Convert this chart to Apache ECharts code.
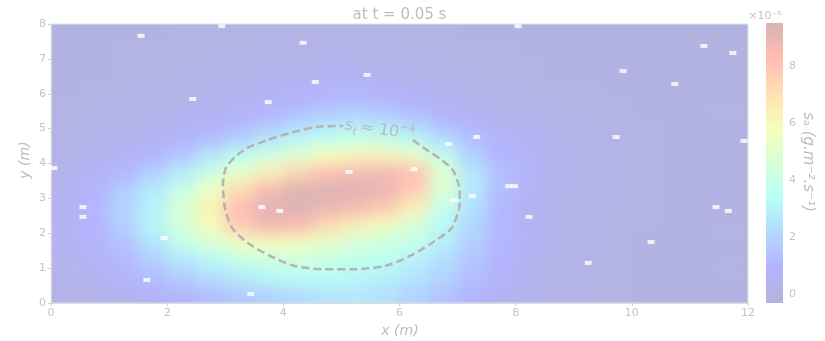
<!DOCTYPE html>
<html>
<head>
<meta charset="utf-8">
<title>s_a at t = 0.05 s</title>
<script src="https://cdn.jsdelivr.net/npm/echarts@6/dist/echarts.min.js"></script>
<style>
  html, body { margin: 0; padding: 0; background: #fff; }
  #wrap { position: relative; width: 825px; height: 341px; }
  /* the field is drawn in its own chart, softened like imshow's bilinear look */
  #fieldClip { position: absolute; left: 51px; top: 24px; width: 697px; height: 279px; overflow: hidden; }
  #field { position: absolute; left: -24px; top: -24px; width: 745px; height: 327px; filter: blur(8px); }
  #chart { position: absolute; left: 0; top: 0; width: 825px; height: 341px; }
</style>
</head>
<body>
<div id="wrap">
  <div id="fieldClip"><div id="field"></div></div>
  <div id="chart"></div>
</div>
<script>
// cell centres (m), cells are 0.5 m wide
const CELL = 0.5;
const xCenters = [0.25, 0.75, 1.25, 1.75, 2.25, 2.75, 3.25, 3.75, 4.25, 4.75, 5.25, 5.75,
  6.25, 6.75, 7.25, 7.75, 8.25, 8.75, 9.25, 9.75, 10.25, 10.75, 11.25, 11.75];
const yCenters = [0.25, 0.75, 1.25, 1.75, 2.25, 2.75, 3.25, 3.75, 4.25, 4.75, 5.25, 5.75,
  6.25, 6.75, 7.25, 7.75];

// s_a (x1e-5 g.m-2.s-1), one row per y centre
const rowY0_25 = [0.16, 0.22, 0.4, 0.7, 1.0, 1.3, 1.6, 1.9, 2.2, 2.5, 2.6, 2.4, 2.0, 1.5, 1.0, 0.55, 0.3, 0.15, 0.08, 0.04, 0.02, 0.01, 0, 0];
const rowY0_75 = [0.3, 0.5, 0.85, 1.3, 1.8, 2.3, 2.8, 3.2, 3.4, 3.35, 3.15, 2.9, 2.5, 2.0, 1.35, 0.75, 0.4, 0.2, 0.1, 0.05, 0.03, 0.01, 0, 0];
const rowY1_25 = [0.4, 0.7, 1.15, 1.85, 2.6, 3.2, 3.8, 4.1, 4.2, 4.0, 3.7, 3.4, 3.0, 2.3, 1.5, 0.85, 0.45, 0.22, 0.11, 0.06, 0.03, 0.01, 0, 0];
const rowY1_75 = [0.4, 0.85, 1.5, 2.55, 3.7, 4.75, 5.6, 5.9, 5.7, 5.2, 4.6, 4.2, 3.7, 2.9, 1.9, 1.1, 0.55, 0.27, 0.13, 0.07, 0.03, 0.02, 0.01, 0];
const rowY2_25 = [0.48, 1.0, 1.85, 3.05, 4.6, 6.0, 7.8, 8.7, 8.4, 7.3, 6.4, 5.6, 4.6, 3.2, 2.05, 1.1, 0.55, 0.3, 0.14, 0.07, 0.04, 0.02, 0.01, 0];
const rowY2_75 = [0.42, 1.05, 2.0, 3.0, 4.6, 6.3, 8.2, 9.2, 9.4, 9.0, 8.5, 7.8, 6.4, 3.9, 2.4, 1.1, 0.52, 0.29, 0.15, 0.08, 0.04, 0.02, 0.01, 0];
const rowY3_25 = [0.45, 0.95, 1.8, 2.7, 4.0, 5.5, 7.2, 8.6, 9.3, 9.4, 9.3, 8.9, 7.7, 4.8, 2.7, 1.25, 0.6, 0.32, 0.16, 0.08, 0.04, 0.02, 0.01, 0];
const rowY3_75 = [0.29, 0.62, 1.1, 1.85, 2.8, 4.1, 5.3, 6.4, 7.4, 8.1, 8.6, 8.7, 8.1, 5.0, 2.6, 1.3, 0.68, 0.38, 0.2, 0.1, 0.05, 0.02, 0.01, 0];
const rowY4_25 = [0.22, 0.35, 0.6, 1.0, 1.6, 2.6, 3.5, 4.3, 5.0, 5.7, 6.1, 6.3, 5.3, 3.7, 1.9, 1.0, 0.63, 0.37, 0.2, 0.1, 0.05, 0.02, 0.01, 0];
const rowY4_75 = [0.12, 0.25, 0.4, 0.5, 0.8, 1.2, 1.8, 2.5, 3.1, 3.6, 3.95, 3.8, 3.1, 2.2, 1.3, 0.75, 0.5, 0.32, 0.18, 0.1, 0.05, 0.02, 0.01, 0];
const rowY5_25 = [0.08, 0.14, 0.22, 0.3, 0.45, 0.65, 0.9, 1.3, 1.8, 2.2, 2.4, 2.2, 1.7, 1.1, 0.7, 0.45, 0.3, 0.2, 0.12, 0.07, 0.04, 0.02, 0.01, 0];
const rowY5_75 = [0.05, 0.1, 0.15, 0.2, 0.3, 0.4, 0.55, 0.75, 1.0, 1.2, 1.3, 1.15, 0.9, 0.55, 0.33, 0.22, 0.15, 0.1, 0.06, 0.04, 0.02, 0.01, 0, 0];
const rowY6_25 = [0.03, 0.05, 0.08, 0.12, 0.18, 0.25, 0.33, 0.45, 0.6, 0.7, 0.7, 0.6, 0.45, 0.28, 0.18, 0.12, 0.08, 0.06, 0.04, 0.03, 0.02, 0.01, 0, 0];
const rowY6_75 = [0.02, 0.03, 0.05, 0.07, 0.1, 0.14, 0.18, 0.25, 0.33, 0.4, 0.38, 0.32, 0.2, 0.13, 0.08, 0.06, 0.04, 0.03, 0.02, 0.01, 0.01, 0, 0, 0];
const rowY7_25 = [0.02, 0.03, 0.04, 0.05, 0.07, 0.09, 0.11, 0.14, 0.18, 0.21, 0.2, 0.17, 0.12, 0.08, 0.05, 0.04, 0.03, 0.02, 0.01, 0.01, 0, 0, 0, 0];
const rowY7_75 = [0.01, 0.01, 0.02, 0.03, 0.04, 0.05, 0.07, 0.09, 0.11, 0.12, 0.11, 0.09, 0.07, 0.05, 0.03, 0.02, 0.02, 0.01, 0.01, 0, 0, 0, 0, 0];
const fieldRows = [rowY0_25, rowY0_75, rowY1_25, rowY1_75, rowY2_25, rowY2_75, rowY3_25, rowY3_75,
  rowY4_25, rowY4_75, rowY5_25, rowY5_75, rowY6_25, rowY6_75, rowY7_25, rowY7_75];

// s_t = 1e-4 contour, clockwise from the right end of its label
const contourX = [6.23, 6.47, 6.73, 6.92, 7.02, 7.04, 7.02, 6.90, 6.61, 6.18, 5.75, 5.23, 4.67,
  4.20, 3.77, 3.39, 3.12, 3.00, 2.96, 3.01, 3.17, 3.37, 3.72, 4.11, 4.58, 5.03];
const contourY = [4.67, 4.39, 4.10, 3.81, 3.38, 2.95, 2.67, 2.15, 1.78, 1.35, 1.06, 0.97, 0.97,
  1.06, 1.35, 1.72, 2.15, 2.67, 3.38, 3.87, 4.19, 4.44, 4.67, 4.87, 5.05, 5.08];
const contourLabelPos = [5.66, 4.96];

// white sensor marks
const sensorX = [1.55, 2.94, 4.34, 8.04, 4.55, 5.44, 2.44, 3.74, 9.85, 10.74, 11.24, 11.74,
  11.93, 9.73, 7.33, 6.84, 0.05, 5.13, 6.25, 7.25, 6.94, 7.88, 7.98, 3.63, 3.94, 0.55, 0.55,
  1.95, 8.23, 11.45, 11.66, 10.33, 1.65, 3.44, 9.25];
const sensorY = [7.66, 7.94, 7.46, 7.94, 6.34, 6.54, 5.85, 5.76, 6.65, 6.28, 7.37, 7.17,
  4.65, 4.76, 4.76, 4.56, 3.87, 3.76, 3.84, 3.07, 2.95, 3.35, 3.35, 2.75, 2.64, 2.75, 2.47,
  1.86, 2.47, 2.75, 2.64, 1.75, 0.66, 0.26, 1.15];

const xRange = [0, 12];
const yRange = [0, 8];
const xTickStep = 2;
const yTickStep = 1;
const cbarTicks = [0, 2, 4, 6, 8];
const cbarRange = [-0.3, 9.5];

// jet colormap drawn at alpha 0.3 over white
const JET = [[0, 0, 128], [0, 0, 255], [0, 128, 255], [20, 255, 226], [123, 255, 123],
  [226, 255, 20], [255, 151, 0], [255, 33, 0], [128, 0, 0]];
const ALPHA = 0.3;
const faded = JET.map(c => 'rgb(' + c.map(v => Math.round(255 * (1 - ALPHA) + v * ALPHA)).join(',') + ')');

const FONT = 'DejaVu Sans';
const TEXT = '#c4c4c4';
const LINE = '#b7b3b1';
const PAD = 24;

const cells = [];
fieldRows.forEach((row, i) => {
  row.forEach((v, j) => cells.push([xCenters[j], yCenters[i], v]));
});
const contour = contourX.map((x, i) => [x, contourY[i]]);
const sensors = sensorX.map((x, i) => [x, sensorY[i]]);

// field layer
const field = echarts.init(document.getElementById('field'));
field.setOption({
  animation: false,
  grid: { left: PAD, top: PAD, width: 697, height: 279 },
  xAxis: { type: 'value', min: xRange[0], max: xRange[1], show: false },
  yAxis: { type: 'value', min: yRange[0], max: yRange[1], show: false },
  visualMap: {
    type: 'continuous', show: false, seriesIndex: 0, dimension: 2,
    min: cbarRange[0], max: cbarRange[1],
    inRange: { color: faded }
  },
  series: [{
    type: 'custom',
    silent: true,
    data: cells,
    encode: { x: 0, y: 1 },
    renderItem: function (params, api) {
      const x = api.value(0), y = api.value(1);
      const p0 = api.coord([x - CELL / 2, y + CELL / 2]);
      const p1 = api.coord([x + CELL / 2, y - CELL / 2]);
      // cells on the border are stretched to the canvas edge so the blur has no white rim
      let x0 = p0[0], y0 = p0[1], x1 = p1[0] + 0.6, y1 = p1[1] + 0.6;
      if (x - CELL / 2 <= xRange[0]) x0 -= PAD;
      if (x + CELL / 2 >= xRange[1]) x1 += PAD;
      if (y + CELL / 2 >= yRange[1]) y0 -= PAD;
      if (y - CELL / 2 <= yRange[0]) y1 += PAD;
      return {
        type: 'rect',
        shape: { x: x0, y: y0, width: x1 - x0, height: y1 - y0 },
        style: { fill: api.visual('color') }
      };
    }
  }]
});

// axes, colorbar, contour and marks
const chart = echarts.init(document.getElementById('chart'));

const axisCommon = {
  splitLine: { show: false },
  axisLine: { show: true, lineStyle: { color: '#dadada', width: 1 } },
  axisTick: { show: true, length: 3, lineStyle: { color: '#d0d0d0' } },
  axisLabel: { color: TEXT, fontSize: 11, fontFamily: FONT, margin: 5 }
};

chart.setOption({
  animation: false,
  backgroundColor: 'transparent',
  grid: [
    { left: 51, top: 24, width: 697, height: 279, show: true, borderColor: '#e2e2e2', borderWidth: 1 },
    { left: 766, top: 23, width: 17, height: 280 }
  ],
  xAxis: [
    Object.assign({ type: 'value', gridIndex: 0, min: xRange[0], max: xRange[1], interval: xTickStep }, axisCommon),
    { type: 'value', gridIndex: 1, min: 0, max: 1, show: false }
  ],
  yAxis: [
    Object.assign({ type: 'value', gridIndex: 0, min: yRange[0], max: yRange[1], interval: yTickStep }, axisCommon),
    {
      type: 'value', gridIndex: 1, min: cbarRange[0], max: cbarRange[1], position: 'right',
      splitLine: { show: false },
      axisLine: { show: false },
      axisTick: { show: true, length: 3, customValues: cbarTicks, lineStyle: { color: '#d0d0d0' } },
      axisLabel: { color: TEXT, fontSize: 11, fontFamily: FONT, margin: 6, customValues: cbarTicks }
    }
  ],
  series: [
    {
      type: 'custom',
      xAxisIndex: 1, yAxisIndex: 1,
      silent: true,
      data: [[0, cbarRange[0], 1, cbarRange[1]]],
      renderItem: function (params, api) {
        const p0 = api.coord([api.value(0), api.value(3)]);
        const p1 = api.coord([api.value(2), api.value(1)]);
        return {
          type: 'rect',
          shape: { x: p0[0], y: p0[1], width: p1[0] - p0[0], height: p1[1] - p0[1] },
          style: {
            fill: new echarts.graphic.LinearGradient(0, 1, 0, 0,
              faded.map((c, i) => ({ offset: i / (faded.length - 1), color: c })))
          }
        };
      }
    },
    {
      type: 'line',
      xAxisIndex: 0, yAxisIndex: 0,
      data: contour,
      symbol: 'none',
      smooth: 0.25,
      silent: true,
      lineStyle: { color: LINE, width: 2.5, type: [8, 4] },
      z: 3
    },
    {
      type: 'scatter',
      xAxisIndex: 0, yAxisIndex: 0,
      data: [contourLabelPos],
      symbolSize: 0,
      silent: true,
      label: {
        show: true, position: 'inside', rotate: -8,
        formatter: '{it|s}{sub|t} {n|≈ 10}{sup|−4}',
        rich: {
          it: { fontStyle: 'italic', fontSize: 16, fontFamily: FONT, color: LINE, lineHeight: 22, verticalAlign: 'middle' },
          sub: { fontStyle: 'italic', fontSize: 11, fontFamily: FONT, color: LINE, lineHeight: 11, verticalAlign: 'bottom' },
          n: { fontSize: 16, fontFamily: FONT, color: LINE, lineHeight: 22, verticalAlign: 'middle' },
          sup: { fontSize: 11, fontFamily: FONT, color: LINE, lineHeight: 11, verticalAlign: 'top' }
        }
      },
      z: 4
    },
    {
      type: 'scatter',
      xAxisIndex: 0, yAxisIndex: 0,
      data: sensors,
      symbol: 'rect',
      symbolSize: [7, 4],
      silent: true,
      itemStyle: { color: '#ffffff' },
      z: 5
    }
  ],
  graphic: [
    {
      type: 'text', x: 399.5, y: 15, silent: true,
      style: { text: 'at t = 0.05 s', fill: '#bdbdbd', font: '15px "DejaVu Sans"', textAlign: 'center', textVerticalAlign: 'middle' }
    },
    {
      type: 'text', x: 400, y: 331, silent: true,
      style: { text: 'x (m)', fill: '#bcbcbc', font: 'italic 14px "DejaVu Sans"', textAlign: 'center', textVerticalAlign: 'middle' }
    },
    {
      type: 'text', x: 25, y: 160, rotation: Math.PI / 2, silent: true,
      style: { text: 'y (m)', fill: '#bcbcbc', font: 'italic 14px "DejaVu Sans"', textAlign: 'center', textVerticalAlign: 'middle' }
    },
    {
      type: 'text', x: 808, y: 162, rotation: -Math.PI / 2, silent: true,
      style: { text: 'sₐ (g.m⁻².s⁻¹)', fill: '#bcbcbc', font: 'italic 15px "DejaVu Sans"', textAlign: 'center', textVerticalAlign: 'middle' }
    },
    {
      type: 'text', x: 765, y: 16, silent: true,
      style: { text: '×10⁻⁵', fill: TEXT, font: '11px "DejaVu Sans"', textAlign: 'center', textVerticalAlign: 'middle' }
    }
  ]
});
</script>
</body>
</html>
